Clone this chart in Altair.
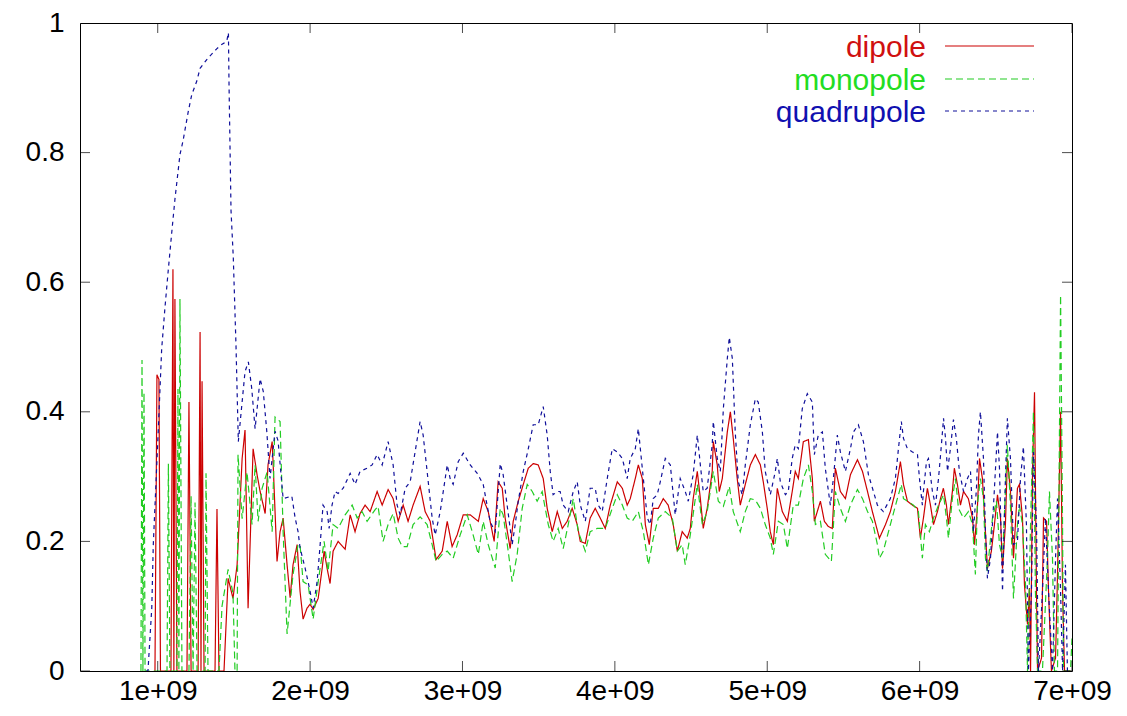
import altair as alt
import pandas as pd

# x values are in units of 1e9, y values are the plotted ratios
dipole_points = [
    (0.982, 0.0), (0.995, 0.457), (1.008, 0.45), (1.018, 0.0), (1.087, 0.0), (1.100, 0.62),
    (1.106, 0.0), (1.113, 0.574), (1.126, 0.0), (1.192, 0.0), (1.205, 0.415), (1.219, 0.0),
    (1.265, 0.0), (1.278, 0.523), (1.284, 0.0), (1.291, 0.447), (1.304, 0.0), (1.376, 0.0),
    (1.389, 0.25), (1.402, 0.0), (1.435, 0.0), (1.462, 0.143), (1.494, 0.112), (1.521, 0.164),
    (1.554, 0.328), (1.573, 0.372), (1.593, 0.097), (1.626, 0.343), (1.652, 0.303), (1.672, 0.277),
    (1.705, 0.243), (1.724, 0.318), (1.751, 0.354), (1.757, 0.323), (1.783, 0.169), (1.803, 0.215),
    (1.823, 0.236), (1.849, 0.164), (1.869, 0.113), (1.888, 0.164), (1.915, 0.195), (1.934, 0.123),
    (1.954, 0.08), (1.980, 0.097), (2.000, 0.103), (2.020, 0.095), (2.053, 0.112), (2.079, 0.158),
    (2.092, 0.185), (2.112, 0.158), (2.131, 0.135), (2.151, 0.185), (2.184, 0.2), (2.230, 0.188),
    (2.263, 0.241), (2.295, 0.215), (2.328, 0.243), (2.361, 0.256), (2.394, 0.246), (2.440, 0.277),
    (2.473, 0.256), (2.512, 0.28), (2.545, 0.266), (2.578, 0.231), (2.611, 0.256), (2.643, 0.231),
    (2.676, 0.256), (2.722, 0.285), (2.755, 0.246), (2.788, 0.231), (2.827, 0.172), (2.867, 0.185),
    (2.900, 0.231), (2.932, 0.192), (2.965, 0.21), (3.005, 0.241), (3.051, 0.241), (3.104, 0.231),
    (3.136, 0.266), (3.169, 0.246), (3.208, 0.2), (3.234, 0.292), (3.261, 0.282), (3.280, 0.236),
    (3.313, 0.189), (3.333, 0.231), (3.366, 0.262), (3.399, 0.288), (3.432, 0.313), (3.464, 0.32),
    (3.497, 0.318), (3.530, 0.297), (3.556, 0.251), (3.589, 0.215), (3.622, 0.246), (3.655, 0.22),
    (3.687, 0.231), (3.720, 0.251), (3.753, 0.226), (3.773, 0.2), (3.806, 0.197), (3.838, 0.236),
    (3.871, 0.251), (3.904, 0.236), (3.937, 0.22), (3.970, 0.256), (4.016, 0.292), (4.049, 0.282),
    (4.081, 0.256), (4.101, 0.266), (4.134, 0.297), (4.154, 0.318), (4.180, 0.297), (4.200, 0.226),
    (4.226, 0.195), (4.252, 0.251), (4.285, 0.251), (4.318, 0.266), (4.350, 0.256), (4.383, 0.226),
    (4.410, 0.185), (4.442, 0.215), (4.475, 0.205), (4.495, 0.22), (4.514, 0.266), (4.541, 0.308),
    (4.561, 0.266), (4.580, 0.22), (4.606, 0.251), (4.639, 0.308), (4.646, 0.354), (4.672, 0.318),
    (4.685, 0.277), (4.705, 0.297), (4.738, 0.369), (4.758, 0.4), (4.777, 0.359), (4.803, 0.297),
    (4.823, 0.256), (4.856, 0.288), (4.889, 0.318), (4.922, 0.334), (4.955, 0.318), (4.974, 0.292),
    (5.000, 0.251), (5.020, 0.215), (5.040, 0.195), (5.066, 0.282), (5.099, 0.246), (5.132, 0.231),
    (5.164, 0.277), (5.184, 0.308), (5.204, 0.297), (5.237, 0.354), (5.270, 0.357), (5.296, 0.297),
    (5.309, 0.231), (5.349, 0.262), (5.375, 0.231), (5.401, 0.223), (5.427, 0.22), (5.447, 0.313),
    (5.480, 0.277), (5.513, 0.266), (5.546, 0.303), (5.592, 0.326), (5.625, 0.308), (5.658, 0.277),
    (5.690, 0.246), (5.736, 0.205), (5.776, 0.226), (5.808, 0.246), (5.841, 0.277), (5.874, 0.323),
    (5.894, 0.288), (5.920, 0.262), (5.953, 0.256), (5.986, 0.251), (6.005, 0.205), (6.025, 0.236),
    (6.051, 0.282), (6.071, 0.256), (6.091, 0.226), (6.117, 0.246), (6.137, 0.266), (6.156, 0.282),
    (6.176, 0.256), (6.189, 0.226), (6.215, 0.277), (6.228, 0.313), (6.248, 0.288), (6.268, 0.256),
    (6.288, 0.277), (6.320, 0.266), (6.347, 0.236), (6.360, 0.195), (6.379, 0.251), (6.393, 0.328),
    (6.412, 0.297), (6.432, 0.215), (6.445, 0.158), (6.471, 0.185), (6.491, 0.226), (6.511, 0.272),
    (6.531, 0.236), (6.544, 0.158), (6.563, 0.226), (6.576, 0.328), (6.596, 0.277), (6.616, 0.174),
    (6.642, 0.282), (6.655, 0.288), (6.675, 0.236), (6.688, 0.133), (6.708, 0.072), (6.721, 0.128),
    (6.728, 0.0), (6.741, 0.308), (6.754, 0.43), (6.767, 0.123), (6.774, 0.0), (6.800, 0.02),
    (6.813, 0.236), (6.833, 0.231), (6.846, 0.123), (6.865, 0.0), (6.892, 0.02), (6.905, 0.149),
    (6.925, 0.4), (6.938, 0.123), (6.951, 0.0), (6.990, 0.0),
]

monopole_points = [
    (0.890, 0.0), (0.897, 0.48), (0.903, 0.0), (0.910, 0.43), (0.917, 0.0), (1.061, 0.0),
    (1.070, 0.32), (1.080, 0.0), (1.126, 0.0), (1.133, 0.435), (1.139, 0.0), (1.146, 0.574),
    (1.159, 0.0), (1.205, 0.0), (1.219, 0.27), (1.232, 0.0), (1.245, 0.26), (1.258, 0.0),
    (1.311, 0.0), (1.317, 0.305), (1.330, 0.0), (1.402, 0.0), (1.422, 0.1), (1.462, 0.157),
    (1.494, 0.12), (1.507, 0.0), (1.521, 0.0), (1.527, 0.334), (1.554, 0.235), (1.586, 0.307),
    (1.619, 0.226), (1.639, 0.318), (1.659, 0.231), (1.685, 0.282), (1.718, 0.307), (1.751, 0.215),
    (1.770, 0.392), (1.803, 0.385), (1.823, 0.215), (1.849, 0.057), (1.888, 0.149), (1.921, 0.195),
    (1.934, 0.195), (1.954, 0.138), (1.987, 0.133), (2.020, 0.08), (2.053, 0.138), (2.092, 0.2),
    (2.118, 0.154), (2.151, 0.226), (2.184, 0.22), (2.230, 0.241), (2.276, 0.256), (2.309, 0.236),
    (2.341, 0.246), (2.374, 0.231), (2.427, 0.249), (2.446, 0.254), (2.479, 0.2), (2.512, 0.226),
    (2.545, 0.243), (2.578, 0.205), (2.604, 0.192), (2.637, 0.192), (2.676, 0.226), (2.722, 0.238),
    (2.768, 0.226), (2.801, 0.195), (2.827, 0.169), (2.867, 0.18), (2.900, 0.185), (2.939, 0.174),
    (2.985, 0.21), (3.031, 0.241), (3.064, 0.215), (3.104, 0.18), (3.136, 0.231), (3.169, 0.195),
    (3.215, 0.159), (3.248, 0.251), (3.267, 0.241), (3.300, 0.185), (3.326, 0.138), (3.359, 0.18),
    (3.392, 0.251), (3.425, 0.288), (3.458, 0.277), (3.490, 0.262), (3.523, 0.277), (3.543, 0.251),
    (3.563, 0.226), (3.595, 0.2), (3.628, 0.22), (3.661, 0.189), (3.694, 0.226), (3.727, 0.266),
    (3.760, 0.215), (3.806, 0.185), (3.838, 0.215), (3.884, 0.22), (3.937, 0.22), (3.983, 0.251),
    (4.016, 0.272), (4.049, 0.256), (4.081, 0.236), (4.114, 0.231), (4.154, 0.246), (4.187, 0.215),
    (4.220, 0.164), (4.252, 0.205), (4.285, 0.236), (4.331, 0.246), (4.377, 0.236), (4.410, 0.185),
    (4.442, 0.195), (4.462, 0.164), (4.495, 0.21), (4.528, 0.266), (4.541, 0.288), (4.574, 0.226),
    (4.606, 0.246), (4.646, 0.308), (4.679, 0.262), (4.712, 0.254), (4.751, 0.285), (4.777, 0.246),
    (4.823, 0.215), (4.856, 0.246), (4.889, 0.266), (4.922, 0.264), (4.955, 0.251), (4.987, 0.226),
    (5.020, 0.205), (5.040, 0.18), (5.073, 0.231), (5.106, 0.226), (5.132, 0.189), (5.171, 0.256),
    (5.204, 0.256), (5.237, 0.297), (5.270, 0.318), (5.296, 0.277), (5.316, 0.226), (5.349, 0.231),
    (5.381, 0.18), (5.421, 0.169), (5.447, 0.277), (5.480, 0.251), (5.513, 0.231), (5.546, 0.256),
    (5.592, 0.28), (5.625, 0.266), (5.658, 0.246), (5.690, 0.231), (5.723, 0.195), (5.736, 0.174),
    (5.762, 0.185), (5.808, 0.226), (5.854, 0.266), (5.880, 0.288), (5.894, 0.266), (5.920, 0.262),
    (5.960, 0.256), (5.992, 0.246), (6.018, 0.174), (6.038, 0.226), (6.064, 0.215), (6.091, 0.236),
    (6.124, 0.256), (6.157, 0.272), (6.176, 0.236), (6.189, 0.205), (6.215, 0.266), (6.235, 0.297),
    (6.255, 0.251), (6.288, 0.236), (6.320, 0.246), (6.347, 0.226), (6.366, 0.149), (6.379, 0.256),
    (6.399, 0.297), (6.419, 0.266), (6.432, 0.174), (6.445, 0.154), (6.478, 0.236), (6.504, 0.262),
    (6.524, 0.195), (6.544, 0.174), (6.563, 0.277), (6.576, 0.349), (6.596, 0.256), (6.616, 0.112),
    (6.642, 0.226), (6.655, 0.256), (6.675, 0.226), (6.695, 0.133), (6.708, 0.0), (6.728, 0.226),
    (6.747, 0.4), (6.760, 0.123), (6.774, 0.0), (6.806, 0.0), (6.839, 0.174), (6.852, 0.277),
    (6.872, 0.174), (6.885, 0.0), (6.905, 0.0), (6.925, 0.58), (6.938, 0.226), (6.944, 0.0),
    (6.990, 0.0), (7.000, 0.05),
]

quadrupole_points = [
    (0.923, 0.0), (0.936, 0.0), (0.961, 0.097), (0.971, 0.195), (0.989, 0.292), (1.004, 0.374),
    (1.026, 0.497), (1.048, 0.562), (1.069, 0.618), (1.091, 0.674), (1.113, 0.728), (1.146, 0.797),
    (1.166, 0.818), (1.201, 0.864), (1.223, 0.889), (1.256, 0.91), (1.278, 0.93), (1.330, 0.946),
    (1.387, 0.96), (1.409, 0.965), (1.453, 0.972), (1.464, 0.985), (1.468, 0.905), (1.481, 0.711),
    (1.496, 0.638), (1.514, 0.5), (1.529, 0.354), (1.573, 0.462), (1.595, 0.477), (1.617, 0.436),
    (1.639, 0.374), (1.672, 0.451), (1.693, 0.431), (1.716, 0.369), (1.737, 0.297), (1.770, 0.37),
    (1.790, 0.355), (1.823, 0.266), (1.880, 0.27), (1.902, 0.236), (1.921, 0.215), (1.934, 0.19),
    (1.967, 0.159), (2.000, 0.123), (2.020, 0.097), (2.046, 0.138), (2.066, 0.195), (2.085, 0.256),
    (2.112, 0.246), (2.125, 0.22), (2.144, 0.256), (2.164, 0.277), (2.184, 0.274), (2.217, 0.282),
    (2.263, 0.305), (2.295, 0.288), (2.328, 0.308), (2.374, 0.313), (2.407, 0.318), (2.440, 0.334),
    (2.473, 0.318), (2.512, 0.354), (2.545, 0.318), (2.571, 0.256), (2.591, 0.241), (2.624, 0.282),
    (2.657, 0.292), (2.689, 0.338), (2.722, 0.385), (2.742, 0.364), (2.768, 0.308), (2.801, 0.236),
    (2.821, 0.21), (2.854, 0.246), (2.900, 0.318), (2.919, 0.297), (2.939, 0.288), (2.972, 0.323),
    (3.005, 0.336), (3.051, 0.318), (3.097, 0.305), (3.136, 0.288), (3.182, 0.23), (3.215, 0.215),
    (3.248, 0.32), (3.267, 0.303), (3.293, 0.256), (3.313, 0.22), (3.326, 0.195), (3.346, 0.226),
    (3.366, 0.262), (3.399, 0.308), (3.432, 0.343), (3.464, 0.38), (3.497, 0.38), (3.530, 0.408),
    (3.556, 0.364), (3.576, 0.308), (3.595, 0.272), (3.622, 0.277), (3.641, 0.277), (3.661, 0.256),
    (3.694, 0.246), (3.727, 0.277), (3.753, 0.292), (3.773, 0.256), (3.806, 0.231), (3.838, 0.282),
    (3.871, 0.282), (3.891, 0.256), (3.917, 0.246), (3.950, 0.297), (3.983, 0.343), (4.016, 0.338),
    (4.049, 0.328), (4.081, 0.297), (4.101, 0.328), (4.134, 0.343), (4.154, 0.374), (4.180, 0.313),
    (4.213, 0.236), (4.232, 0.226), (4.252, 0.266), (4.278, 0.272), (4.298, 0.292), (4.331, 0.328),
    (4.364, 0.318), (4.396, 0.241), (4.429, 0.297), (4.462, 0.277), (4.482, 0.262), (4.514, 0.303),
    (4.541, 0.364), (4.561, 0.318), (4.580, 0.277), (4.606, 0.282), (4.639, 0.349), (4.646, 0.385),
    (4.672, 0.328), (4.692, 0.308), (4.712, 0.405), (4.738, 0.482), (4.751, 0.515), (4.771, 0.482),
    (4.790, 0.369), (4.810, 0.292), (4.836, 0.272), (4.856, 0.318), (4.889, 0.38), (4.922, 0.42),
    (4.941, 0.415), (4.968, 0.369), (4.987, 0.308), (5.020, 0.272), (5.053, 0.308), (5.066, 0.328),
    (5.086, 0.292), (5.119, 0.272), (5.138, 0.277), (5.164, 0.328), (5.184, 0.349), (5.204, 0.343),
    (5.230, 0.405), (5.263, 0.428), (5.296, 0.415), (5.309, 0.334), (5.335, 0.364), (5.362, 0.369),
    (5.381, 0.313), (5.414, 0.256), (5.434, 0.297), (5.460, 0.364), (5.480, 0.338), (5.513, 0.308),
    (5.546, 0.343), (5.566, 0.369), (5.598, 0.38), (5.631, 0.354), (5.664, 0.303), (5.697, 0.277),
    (5.723, 0.256), (5.762, 0.246), (5.808, 0.266), (5.841, 0.297), (5.861, 0.343), (5.880, 0.385),
    (5.894, 0.359), (5.920, 0.343), (5.953, 0.338), (5.986, 0.334), (5.999, 0.297), (6.018, 0.256),
    (6.025, 0.277), (6.045, 0.323), (6.058, 0.328), (6.084, 0.277), (6.104, 0.256), (6.124, 0.297),
    (6.143, 0.349), (6.157, 0.39), (6.170, 0.359), (6.183, 0.308), (6.202, 0.343), (6.222, 0.388),
    (6.241, 0.359), (6.261, 0.308), (6.288, 0.277), (6.314, 0.297), (6.334, 0.308), (6.353, 0.215),
    (6.373, 0.282), (6.386, 0.364), (6.399, 0.4), (6.419, 0.328), (6.432, 0.215), (6.445, 0.143),
    (6.465, 0.174), (6.485, 0.256), (6.511, 0.369), (6.524, 0.313), (6.544, 0.123), (6.563, 0.297),
    (6.576, 0.39), (6.596, 0.328), (6.616, 0.195), (6.642, 0.2), (6.662, 0.297), (6.681, 0.346),
    (6.701, 0.226), (6.714, 0.0), (6.734, 0.123), (6.747, 0.338), (6.767, 0.226), (6.780, 0.0),
    (6.806, 0.123), (6.826, 0.236), (6.846, 0.123), (6.872, 0.0), (6.892, 0.174), (6.905, 0.266),
    (6.925, 0.123), (6.938, 0.0), (6.957, 0.164), (6.970, 0.0),
]

series_names = ["dipole", "monopole", "quadrupole"]
line_colors = ["#cc0000", "#22cc22", "#10109a"]
text_colors = ["#d01010", "#22dd22", "#1010b0"]
line_dashes = [[1, 0], [7, 4], [4, 4]]

x_tick_values = [1, 2, 3, 4, 5, 6, 7]
y_tick_values = [0, 0.2, 0.4, 0.6, 0.8, 1]
X_MIN, X_MAX = 0.49, 7.0
Y_MIN, Y_MAX = 0.0, 1.0

FONT = "Liberation Sans"
FS = 28

xs = alt.Scale(domain=[X_MIN, X_MAX], nice=False, zero=False)
ys = alt.Scale(domain=[Y_MIN, Y_MAX], nice=False, zero=False)
xaxis = alt.Axis(values=x_tick_values, labelExpr="datum.value + 'e+09'", domain=False, ticks=False,
                 grid=False, title=None, labelFont=FONT, labelFontSize=FS, labelColor="black",
                 labelPadding=6, labelFlush=False, labelOverlap=False, labelBound=False)
yaxis = alt.Axis(values=y_tick_values, labelExpr="datum.value + ''", domain=False, ticks=False,
                 grid=False, title=None, labelFont=FONT, labelFontSize=FS, labelColor="black",
                 labelPadding=16, labelFlush=False, labelOverlap=False, labelBound=False)

layers = []
for name, pts, col, dash in zip(series_names, [dipole_points, monopole_points, quadrupole_points],
                                line_colors, line_dashes):
    df = pd.DataFrame({"x": [p[0] for p in pts], "y": [p[1] for p in pts],
                       "i": list(range(len(pts)))})
    layers.append(
        alt.Chart(df).mark_line(color=col, strokeWidth=1.2, strokeDash=dash, clip=True).encode(
            x=alt.X("x:Q", scale=xs, axis=xaxis),
            y=alt.Y("y:Q", scale=ys, axis=yaxis),
            order="i:Q",
        )
    )

xt = pd.DataFrame({"t": x_tick_values})
yt = pd.DataFrame({"t": y_tick_values})
for yv in [Y_MIN, Y_MAX]:
    layers.append(
        alt.Chart(xt).mark_tick(orient="vertical", size=20, thickness=1, color="black", clip=True).encode(
            x=alt.X("t:Q", scale=xs, axis=xaxis),
            y=alt.YDatum(yv, scale=ys, axis=yaxis),
        )
    )
for xv in [X_MIN, X_MAX]:
    layers.append(
        alt.Chart(yt).mark_tick(orient="horizontal", size=20, thickness=1, color="black", clip=True).encode(
            y=alt.Y("t:Q", scale=ys, axis=yaxis),
            x=alt.XDatum(xv, scale=xs, axis=xaxis),
        )
    )

# legend (label on the left, line sample on the right), drawn inside the plot
legend_rows = [25, 58, 90]
for name, tcol, lcol, dash, ypix in zip(series_names, text_colors, line_colors, line_dashes, legend_rows):
    one = pd.DataFrame({"label": [name]})
    layers.append(
        alt.Chart(one).mark_text(align="right", baseline="middle", font=FONT, fontSize=30,
                                 color=tcol).encode(
            x=alt.value(846), y=alt.value(ypix), text="label:N")
    )
    layers.append(
        alt.Chart(one).mark_rule(color=lcol, strokeWidth=1.2, strokeDash=dash).encode(
            x=alt.value(865), x2=alt.value(954), y=alt.value(ypix - 2))
    )

chart = alt.layer(*layers).properties(
    width=992, height=648,
    autosize=alt.AutoSizeParams(type="none"),
    padding={"left": 72, "top": 15, "right": 47, "bottom": 37},
    background="white",
).configure_view(stroke="black", strokeWidth=1)

chart.save("out.html", embed_options={"renderer": "svg", "actions": False})
